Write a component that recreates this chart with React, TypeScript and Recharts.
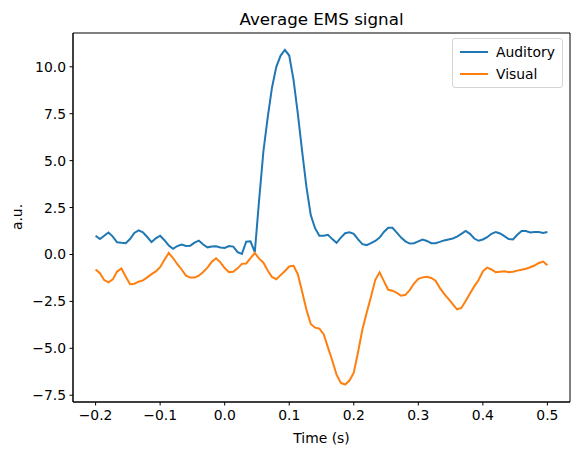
import { LineChart, Line, XAxis, YAxis, Legend, ReferenceArea } from 'recharts';

// epochs run from -200 ms to 500 ms, sampled at 150 Hz
const TMIN = -0.2;
const SFREQ = 150;

const auditory = [
  1.0, 0.82, 1.0, 1.17, 0.95, 0.65, 0.62, 0.6, 0.82, 1.15,
  1.28, 1.18, 0.93, 0.66, 0.86, 1.0, 0.76, 0.48, 0.3, 0.45,
  0.53, 0.45, 0.47, 0.63, 0.74, 0.53, 0.38, 0.43, 0.44, 0.37,
  0.35, 0.45, 0.42, 0.12, 0.03, 0.68, 0.7, 0.12, 2.9, 5.5,
  7.3, 8.9, 10.0, 10.6, 10.9, 10.6, 9.3, 7.5, 5.5, 3.6,
  2.1, 1.4, 1.0, 1.0, 1.05, 0.82, 0.62, 0.9, 1.13, 1.18,
  1.1, 0.8, 0.55, 0.5, 0.6, 0.72, 0.9, 1.2, 1.42, 1.42,
  1.16, 0.9, 0.7, 0.58, 0.6, 0.7, 0.8, 0.72, 0.6, 0.6,
  0.67, 0.75, 0.8, 0.85, 0.95, 1.1, 1.25, 1.1, 0.85, 0.73,
  0.8, 0.92, 1.1, 1.2, 1.12, 0.98, 0.82, 0.8, 1.05, 1.25,
  1.25, 1.17, 1.2, 1.2, 1.15, 1.2,
];

const visual = [
  -0.8, -1.0, -1.36, -1.49, -1.33, -0.91, -0.75, -1.17, -1.58, -1.56,
  -1.45, -1.38, -1.22, -1.05, -0.9, -0.68, -0.28, 0.08, -0.19, -0.52,
  -0.8, -1.13, -1.23, -1.23, -1.13, -0.93, -0.7, -0.39, -0.2, -0.42,
  -0.72, -0.94, -0.92, -0.74, -0.5, -0.48, -0.2, 0.08, -0.22, -0.44,
  -0.85, -1.2, -1.32, -1.1, -0.88, -0.64, -0.6, -1.05, -1.98, -2.95,
  -3.7, -3.9, -3.95, -4.25, -4.95, -5.65, -6.4, -6.85, -6.93, -6.72,
  -6.3, -5.2, -4.0, -3.1, -2.25, -1.35, -0.95, -1.42, -1.88, -1.93,
  -2.05, -2.2, -2.15, -1.9, -1.55, -1.3, -1.22, -1.19, -1.25, -1.4,
  -1.78, -2.1, -2.37, -2.65, -2.92, -2.85, -2.48, -2.08, -1.7, -1.36,
  -0.9, -0.7, -0.8, -0.95, -0.92, -0.9, -0.94, -0.92, -0.86, -0.81,
  -0.76, -0.68, -0.59, -0.45, -0.38, -0.58,
];

const xTicks = [-0.2, -0.1, 0, 0.1, 0.2, 0.3, 0.4, 0.5];
const yTicks = [-7.5, -5, -2.5, 0, 2.5, 5, 7.5, 10];

const X_DOMAIN: [number, number] = [-0.235, 0.535];
const Y_DOMAIN: [number, number] = [-7.86, 11.8];

const data = auditory.map((a, i) => ({
  time: TMIN + i / SFREQ,
  auditory: a,
  visual: visual[i],
}));

const FONT = "'DejaVu Sans', sans-serif";
const fmt = (v: number) => v.toFixed(1).replace('-', '\u2212');

function XTick({ x, y, payload }: any) {
  return (
    <text x={x} y={y} dy={11} textAnchor="middle" fontFamily={FONT} fontSize={13.9} fill="#000">
      {fmt(payload.value)}
    </text>
  );
}

function YTick({ x, y, payload }: any) {
  return (
    <text x={x} y={y} dy={5} textAnchor="end" fontFamily={FONT} fontSize={13.9} fill="#000">
      {fmt(payload.value)}
    </text>
  );
}

function LegendBox({ payload }: any) {
  return (
    <div
      style={{
        border: '1px solid #d5d5d5',
        borderRadius: 3,
        background: 'rgba(255,255,255,0.8)',
        padding: '2px 0 2px 7px',
        fontFamily: FONT,
        fontSize: 13.9,
        color: '#000',
      }}
    >
      {(payload || []).map((p: any) => (
        <div key={p.value} style={{ display: 'flex', alignItems: 'center', height: 22 }}>
          <svg width={28} height={4} style={{ marginRight: 8 }}>
            <line x1={0} y1={2} x2={28} y2={2} stroke={p.color} strokeWidth={2} />
          </svg>
          <span>{p.value}</span>
        </div>
      ))}
    </div>
  );
}

export default function App() {
  return (
    <div style={{ position: 'absolute', left: 0, top: 0, width: 578, height: 455, background: '#fff' }}>
      <LineChart width={578} height={455} data={data} margin={{ top: 33, right: 8, bottom: 0, left: 0 }}>
        <XAxis
          dataKey="time"
          type="number"
          domain={X_DOMAIN}
          ticks={xTicks}
          allowDataOverflow
          height={53}
          tick={<XTick />}
          tickSize={3.5}
          tickMargin={3.5}
          axisLine={{ stroke: '#000', strokeWidth: 1 }}
          tickLine={{ stroke: '#000', strokeWidth: 1 }}
        />
        <YAxis
          type="number"
          domain={Y_DOMAIN}
          ticks={yTicks}
          allowDataOverflow
          width={73}
          tick={<YTick />}
          tickSize={3.5}
          tickMargin={3.5}
          axisLine={{ stroke: '#000', strokeWidth: 1 }}
          tickLine={{ stroke: '#000', strokeWidth: 1 }}
        />
        {/* axes frame: outline of the whole plotting area */}
        <ReferenceArea
          x1={X_DOMAIN[0]}
          x2={X_DOMAIN[1]}
          y1={Y_DOMAIN[0]}
          y2={Y_DOMAIN[1]}
          fill="none"
          fillOpacity={0}
          stroke="#000"
          strokeWidth={1}
          ifOverflow="visible"
        />
        <Legend
          layout="vertical"
          align="center"
          verticalAlign="middle"
          wrapperStyle={{ left: 452, top: 38, width: 111 }}
          content={<LegendBox />}
        />
        <Line
          type="linear"
          dataKey="auditory"
          name="Auditory"
          stroke="#1f77b4"
          strokeWidth={2}
          dot={false}
          activeDot={false}
          isAnimationActive={false}
        />
        <Line
          type="linear"
          dataKey="visual"
          name="Visual"
          stroke="#ff7f0e"
          strokeWidth={2}
          dot={false}
          activeDot={false}
          isAnimationActive={false}
        />
      </LineChart>
      <svg
        width={578}
        height={455}
        style={{ position: 'absolute', left: 0, top: 0, pointerEvents: 'none' }}
      >
        <text x={321.5} y={25} textAnchor="middle" fontFamily={FONT} fontSize={16.7} fill="#000">
          Average EMS signal
        </text>
        <text x={321.5} y={443} textAnchor="middle" fontFamily={FONT} fontSize={13.9} fill="#000">
          Time (s)
        </text>
        <text
          x={22}
          y={217}
          transform="rotate(-90 22 217)"
          textAnchor="middle"
          fontFamily={FONT}
          fontSize={13.9}
          fill="#000"
        >
          a.u.
        </text>
      </svg>
    </div>
  );
}
